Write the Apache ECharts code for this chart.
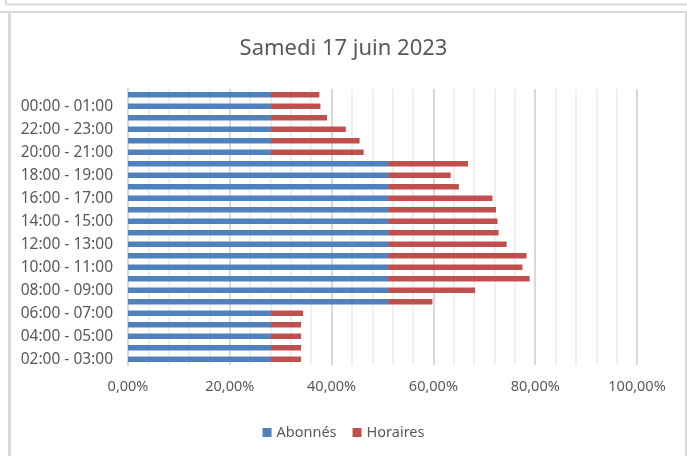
<!DOCTYPE html>
<html>
<head>
<meta charset="utf-8">
<title>Samedi 17 juin 2023</title>
<script src="https://cdn.jsdelivr.net/npm/echarts@6/dist/echarts.min.js"></script>
<style>
    html, body { margin: 0; padding: 0; background: #fff; }
    #main { width: 687px; height: 456px; }
</style>
</head>
<body>
<div id="main"></div>
<script>
// tranches horaires, du bas vers le haut
var categories = ['02:00 - 03:00', '03:00 - 04:00', '04:00 - 05:00', '05:00 - 06:00',
    '06:00 - 07:00', '07:00 - 08:00', '08:00 - 09:00', '09:00 - 10:00', '10:00 - 11:00',
    '11:00 - 12:00', '12:00 - 13:00', '13:00 - 14:00', '14:00 - 15:00', '15:00 - 16:00',
    '16:00 - 17:00', '17:00 - 18:00', '18:00 - 19:00', '19:00 - 20:00', '20:00 - 21:00',
    '21:00 - 22:00', '22:00 - 23:00', '23:00 - 00:00', '00:00 - 01:00', '01:00 - 02:00'];

// taux d'occupation en %
var abonnes = [28.1, 28.1, 28.1, 28.1, 28.1, 51.1, 51.1, 51.1, 51.1, 51.1, 51.1, 51.1,
    51.1, 51.1, 51.1, 51.1, 51.1, 51.1, 28.1, 28.1, 28.1, 28.1, 28.1, 28.1];
var horaires = [5.9, 5.9, 5.9, 5.9, 6.3, 8.7, 17.1, 27.8, 26.4, 27.2, 23.3, 21.7,
    21.5, 21.2, 20.5, 13.9, 12.3, 15.7, 18.2, 17.4, 14.7, 11.0, 9.7, 9.5];

var xTicks = [0, 20, 40, 60, 80, 100];

var txt = '#595959';
var font = 'Noto Sans';

var myChart = echarts.init(document.getElementById('main'));

var option = {
    backgroundColor: '#fff',
    animation: false,
    title: {
        text: 'Samedi 17 juin 2023',
        left: 'center',
        top: 33,
        textStyle: { color: txt, fontSize: 22, fontWeight: 'normal', fontFamily: font }
    },
    legend: {
        bottom: 11,
        left: 'center',
        icon: 'rect',
        itemWidth: 9,
        itemHeight: 9,
        itemGap: 16,
        textStyle: { color: txt, fontSize: 14.5, fontFamily: font }
    },
    grid: { left: 128, right: 50, top: 89, bottom: 91 },
    xAxis: {
        type: 'value',
        min: xTicks[0],
        max: xTicks[xTicks.length - 1],
        interval: 20,
        axisLine: { show: false },
        axisTick: { show: false },
        axisLabel: {
            color: txt, fontSize: 14.5, fontFamily: font, margin: 14,
            formatter: function (v) {
                return v.toFixed(2).replace('.', ',') + '%';
            }
        },
        splitLine: { lineStyle: { color: '#D9D9D9', width: 2 } },
        minorTick: { show: false, splitNumber: 5 },
        minorSplitLine: { show: true, lineStyle: { color: '#F0F0F0', width: 2 } }
    },
    yAxis: {
        type: 'category',
        data: categories,
        axisLine: { lineStyle: { color: '#D9D9D9', width: 2 } },
        axisTick: { show: false },
        axisLabel: { color: txt, fontSize: 15.5, fontFamily: font, margin: 15, interval: 1 }
    },
    series: [
        {
            name: 'Abonnés', type: 'bar', stack: 'total', data: abonnes,
            barWidth: 5.5, itemStyle: { color: '#4F81BD' }
        },
        {
            name: 'Horaires', type: 'bar', stack: 'total', data: horaires,
            barWidth: 5.5, itemStyle: { color: '#C0504D' }
        }
    ],
    // cadre gris autour du graphique
    graphic: [
        { type: 'line', shape: { x1: 6, y1: 4.5, x2: 687, y2: 4.5 }, style: { stroke: '#D9D9D9', lineWidth: 2 } },
        { type: 'line', shape: { x1: 6, y1: 0, x2: 6, y2: 5 }, style: { stroke: '#D9D9D9', lineWidth: 2 } },
        { type: 'line', shape: { x1: 0, y1: 12, x2: 687, y2: 12 }, style: { stroke: '#D9D9D9', lineWidth: 2 } },
        { type: 'line', shape: { x1: 9.5, y1: 12, x2: 9.5, y2: 456 }, style: { stroke: '#D9D9D9', lineWidth: 3 } },
        { type: 'line', shape: { x1: 686, y1: 12, x2: 686, y2: 456 }, style: { stroke: '#D9D9D9', lineWidth: 2 } }
    ]
};

myChart.setOption(option);
</script>
</body>
</html>
